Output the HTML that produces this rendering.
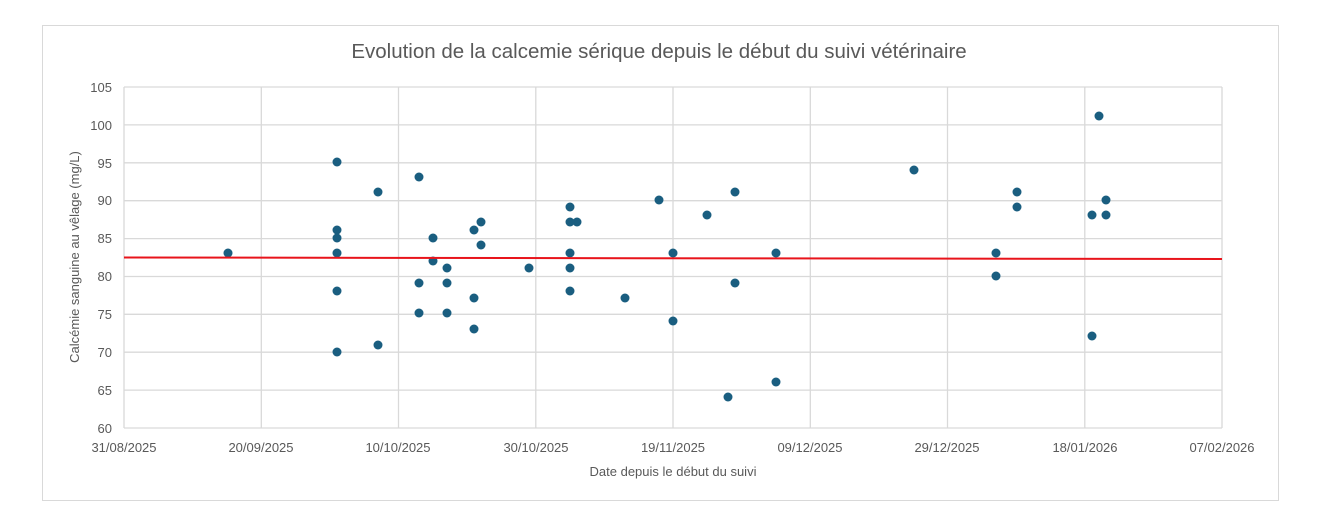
<!DOCTYPE html>
<html><head><meta charset="utf-8"><style>
html,body{margin:0;padding:0;background:#fff;}
svg{display:block;font-family:"Liberation Sans",sans-serif;}
</style></head><body>
<svg width="1321" height="516" xmlns="http://www.w3.org/2000/svg">
<rect x="0" y="0" width="1321" height="516" fill="#fff"/>
<rect x="42.5" y="25.5" width="1236" height="475" fill="#fff" stroke="#d9d9d9"/>
<text x="659" y="58" text-anchor="middle" font-size="20.5" fill="#595959">Evolution de la calcemie sérique depuis le début du suivi vétérinaire</text>
<g stroke="#d9d9d9" stroke-width="1.3">
<line x1="124" y1="87" x2="1222" y2="87"/>
<line x1="124" y1="124.9" x2="1222" y2="124.9"/>
<line x1="124" y1="162.8" x2="1222" y2="162.8"/>
<line x1="124" y1="200.7" x2="1222" y2="200.7"/>
<line x1="124" y1="238.6" x2="1222" y2="238.6"/>
<line x1="124" y1="276.5" x2="1222" y2="276.5"/>
<line x1="124" y1="314.3" x2="1222" y2="314.3"/>
<line x1="124" y1="352.2" x2="1222" y2="352.2"/>
<line x1="124" y1="390.1" x2="1222" y2="390.1"/>
<line x1="124" y1="428" x2="1222" y2="428"/>
<line x1="124" y1="87" x2="124" y2="428"/>
<line x1="261.3" y1="87" x2="261.3" y2="428"/>
<line x1="398.5" y1="87" x2="398.5" y2="428"/>
<line x1="535.8" y1="87" x2="535.8" y2="428"/>
<line x1="673" y1="87" x2="673" y2="428"/>
<line x1="810.3" y1="87" x2="810.3" y2="428"/>
<line x1="947.5" y1="87" x2="947.5" y2="428"/>
<line x1="1084.8" y1="87" x2="1084.8" y2="428"/>
<line x1="1222" y1="87" x2="1222" y2="428"/>
</g>
<g font-size="13" fill="#595959" text-anchor="end">
<text x="112" y="92">105</text><text x="112" y="130">100</text><text x="112" y="168">95</text>
<text x="112" y="205">90</text><text x="112" y="243">85</text><text x="112" y="281">80</text>
<text x="112" y="319">75</text><text x="112" y="357">70</text><text x="112" y="395">65</text>
<text x="112" y="433">60</text>
</g>
<g font-size="13" fill="#595959" text-anchor="middle">
<text x="124" y="452">31/08/2025</text><text x="261" y="452">20/09/2025</text><text x="398" y="452">10/10/2025</text>
<text x="536" y="452">30/10/2025</text><text x="673" y="452">19/11/2025</text><text x="810" y="452">09/12/2025</text>
<text x="947" y="452">29/12/2025</text><text x="1085" y="452">18/01/2026</text><text x="1222" y="452">07/02/2026</text>
</g>
<text x="673" y="476" text-anchor="middle" font-size="13" fill="#595959">Date depuis le début du suivi</text>
<text transform="translate(79,257) rotate(-90)" text-anchor="middle" font-size="13" fill="#595959">Calcémie sanguine au vêlage (mg/L)</text>
<g fill="#1a5e80">
<circle cx="228" cy="253" r="4.5"/>
<circle cx="337" cy="162" r="4.5"/><circle cx="337" cy="230" r="4.5"/><circle cx="337" cy="238" r="4.5"/><circle cx="337" cy="253" r="4.5"/><circle cx="337" cy="291" r="4.5"/><circle cx="337" cy="352" r="4.5"/>
<circle cx="378" cy="192" r="4.5"/><circle cx="378" cy="345" r="4.5"/>
<circle cx="419" cy="177" r="4.5"/><circle cx="419" cy="283" r="4.5"/><circle cx="419" cy="313" r="4.5"/>
<circle cx="433" cy="238" r="4.5"/><circle cx="433" cy="261" r="4.5"/>
<circle cx="447" cy="268" r="4.5"/><circle cx="447" cy="283" r="4.5"/><circle cx="447" cy="313" r="4.5"/>
<circle cx="474" cy="230" r="4.5"/><circle cx="474" cy="298" r="4.5"/><circle cx="474" cy="329" r="4.5"/>
<circle cx="481" cy="222" r="4.5"/><circle cx="481" cy="245" r="4.5"/>
<circle cx="529" cy="268" r="4.5"/>
<circle cx="570" cy="207" r="4.5"/><circle cx="570" cy="222" r="4.5"/><circle cx="570" cy="253" r="4.5"/><circle cx="570" cy="268" r="4.5"/><circle cx="570" cy="291" r="4.5"/><circle cx="577" cy="222" r="4.5"/>
<circle cx="625" cy="298" r="4.5"/>
<circle cx="659" cy="200" r="4.5"/>
<circle cx="673" cy="253" r="4.5"/><circle cx="673" cy="321" r="4.5"/>
<circle cx="707" cy="215" r="4.5"/>
<circle cx="728" cy="397" r="4.5"/>
<circle cx="735" cy="192" r="4.5"/><circle cx="735" cy="283" r="4.5"/>
<circle cx="776" cy="253" r="4.5"/><circle cx="776" cy="382" r="4.5"/>
<circle cx="914" cy="170" r="4.5"/>
<circle cx="996" cy="253" r="4.5"/><circle cx="996" cy="276" r="4.5"/>
<circle cx="1017" cy="192" r="4.5"/><circle cx="1017" cy="207" r="4.5"/>
<circle cx="1092" cy="215" r="4.5"/><circle cx="1092" cy="336" r="4.5"/>
<circle cx="1099" cy="116" r="4.5"/>
<circle cx="1106" cy="200" r="4.5"/><circle cx="1106" cy="215" r="4.5"/>
</g>
<line x1="124" y1="257.5" x2="1222" y2="259" stroke="#e8141b" stroke-width="2"/>
</svg>
</body></html>
